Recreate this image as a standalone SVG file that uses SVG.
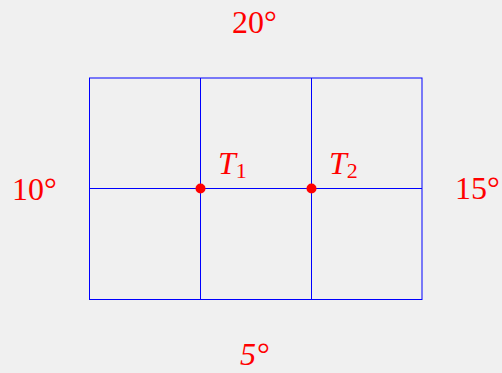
<svg xmlns="http://www.w3.org/2000/svg" width="502" height="373" viewBox="0 0 502 373">
<style>
.bg{fill:#f0f0f0}
.ln{stroke:#0000ff;stroke-width:1;fill:none}
.pt{fill:#ff0000}
.lb{font-family:"Liberation Serif","Times New Roman",serif;font-size:32px;fill:#ff0000}
.it{font-style:italic}
.sub{font-size:22px;font-style:normal}
</style>
<rect class="bg" x="0" y="0" width="502" height="373"/>
<g id="connectors">
<rect class="ln" x="89.5" y="78" width="332.5" height="221.5"/>
<line class="ln" x1="200.5" y1="78" x2="200.5" y2="299.5"/>
<line class="ln" x1="311.5" y1="78" x2="311.5" y2="299.5"/>
<line class="ln" x1="89.5" y1="188.5" x2="422" y2="188.5"/>
</g>
<g id="T1"><circle class="pt" cx="200.5" cy="188.5" r="5"/><text class="lb" x="218" y="174"><tspan class="it">T</tspan><tspan class="sub" dy="4">1</tspan></text></g>
<g id="T2"><circle class="pt" cx="311.5" cy="188.5" r="5"/><text class="lb" x="329" y="174"><tspan class="it">T</tspan><tspan class="sub" dy="4">2</tspan></text></g>
<g id="top"><text class="lb" x="232" y="33">20°</text></g>
<g id="left"><text class="lb" x="12" y="200">10°</text></g>
<g id="right"><text class="lb" x="455" y="199">15°</text></g>
<g id="bottom"><text class="lb it" x="240" y="365">5°</text></g>
</svg>
